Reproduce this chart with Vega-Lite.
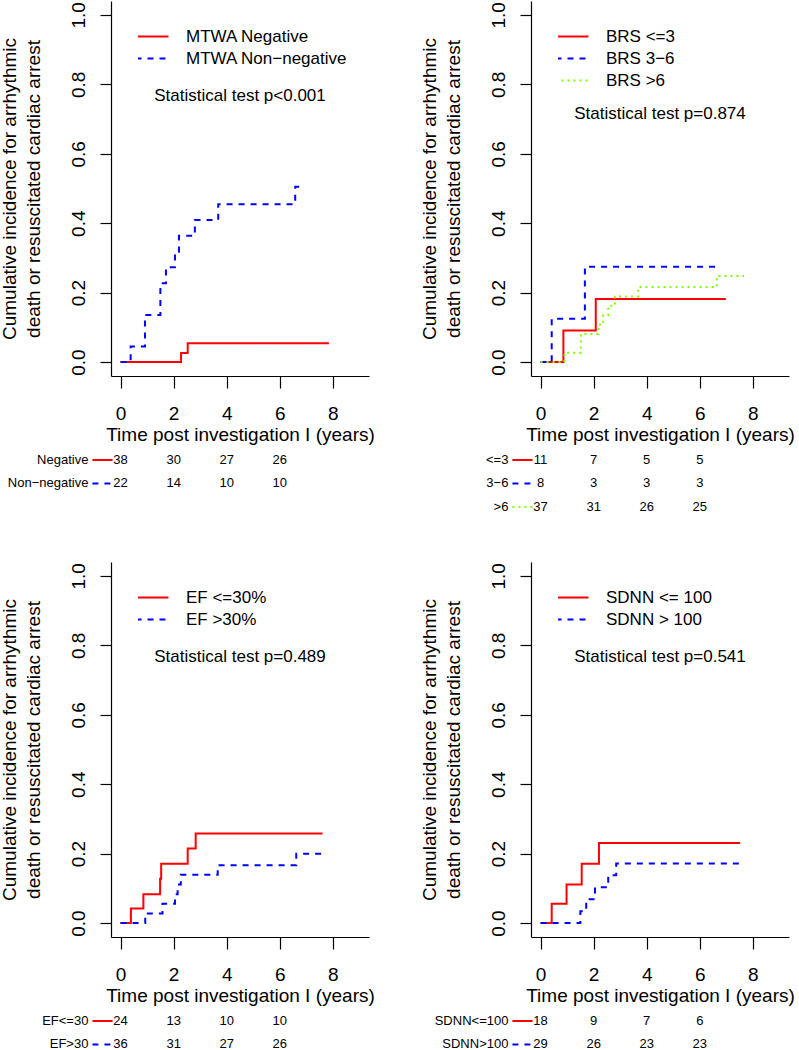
{
  "$schema": "https://vega.github.io/schema/vega-lite/v6.json",
  "padding": {"left": 0, "top": 1, "right": 0, "bottom": 0},
  "columns": 2,
  "spacing": {"row": 46, "column": 162},
  "bounds": "flush",
  "align": "each",
  "resolve": {"scale": {"color": "independent", "strokeDash": "independent"}, "legend": {"color": "independent", "strokeDash": "independent"}},
  "config": {
    "font": "Liberation Sans",
    "view": {"stroke": null},
    "axis": {"grid": false, "domainColor": "#000000", "tickColor": "#000000", "labelColor": "#000000", "titleColor": "#000000", "labelFontSize": 19, "titleFontSize": 19, "titleFontWeight": "normal", "labelFlush": false, "labelOverlap": false, "domainWidth": 1.2, "tickWidth": 1.2},
    "legend": {"padding": 0, "offset": 26.5, "symbolType": "stroke", "symbolSize": 1089, "symbolStrokeWidth": 2, "clipHeight": 17, "rowPadding": 4, "labelFontSize": 17, "labelOffset": 16.5, "symbolOffset": -3.5, "labelColor": "#000000", "labelLimit": 400},
    "text": {"color": "#000000"}
  },
  "datasets": {
    "mtwa": [
      {"series": "MTWA Negative", "time": 0, "ci": 0},
      {"series": "MTWA Negative", "time": 2.28, "ci": 0.026},
      {"series": "MTWA Negative", "time": 2.53, "ci": 0.054},
      {"series": "MTWA Negative", "time": 7.85, "ci": 0.054},
      {"series": "MTWA Non−negative", "time": 0, "ci": 0},
      {"series": "MTWA Non−negative", "time": 0.38, "ci": 0.045},
      {"series": "MTWA Non−negative", "time": 0.92, "ci": 0.136},
      {"series": "MTWA Non−negative", "time": 1.5, "ci": 0.227},
      {"series": "MTWA Non−negative", "time": 1.71, "ci": 0.273},
      {"series": "MTWA Non−negative", "time": 2.05, "ci": 0.318},
      {"series": "MTWA Non−negative", "time": 2.2, "ci": 0.364},
      {"series": "MTWA Non−negative", "time": 2.8, "ci": 0.409},
      {"series": "MTWA Non−negative", "time": 3.68, "ci": 0.455},
      {"series": "MTWA Non−negative", "time": 6.58, "ci": 0.505},
      {"series": "MTWA Non−negative", "time": 6.77, "ci": 0.505}
    ],
    "brs": [
      {"series": "BRS <=3", "time": 0, "ci": 0},
      {"series": "BRS <=3", "time": 0.86, "ci": 0.091},
      {"series": "BRS <=3", "time": 2.08, "ci": 0.182},
      {"series": "BRS <=3", "time": 6.98, "ci": 0.182},
      {"series": "BRS 3−6", "time": 0, "ci": 0},
      {"series": "BRS 3−6", "time": 0.42, "ci": 0.125},
      {"series": "BRS 3−6", "time": 1.67, "ci": 0.275},
      {"series": "BRS 3−6", "time": 6.7, "ci": 0.275},
      {"series": "BRS >6", "time": 0, "ci": 0},
      {"series": "BRS >6", "time": 0.9, "ci": 0.027},
      {"series": "BRS >6", "time": 1.52, "ci": 0.081},
      {"series": "BRS >6", "time": 2.18, "ci": 0.108},
      {"series": "BRS >6", "time": 2.36, "ci": 0.135},
      {"series": "BRS >6", "time": 2.55, "ci": 0.162},
      {"series": "BRS >6", "time": 2.8, "ci": 0.189},
      {"series": "BRS >6", "time": 3.68, "ci": 0.216},
      {"series": "BRS >6", "time": 6.64, "ci": 0.248},
      {"series": "BRS >6", "time": 7.67, "ci": 0.248}
    ],
    "ef": [
      {"series": "EF <=30%", "time": 0, "ci": 0},
      {"series": "EF <=30%", "time": 0.39, "ci": 0.042},
      {"series": "EF <=30%", "time": 0.86, "ci": 0.083},
      {"series": "EF <=30%", "time": 1.49, "ci": 0.128},
      {"series": "EF <=30%", "time": 1.53, "ci": 0.171},
      {"series": "EF <=30%", "time": 2.53, "ci": 0.215},
      {"series": "EF <=30%", "time": 2.83, "ci": 0.258},
      {"series": "EF <=30%", "time": 7.61, "ci": 0.258},
      {"series": "EF >30%", "time": 0, "ci": 0},
      {"series": "EF >30%", "time": 0.93, "ci": 0.028},
      {"series": "EF >30%", "time": 1.58, "ci": 0.056},
      {"series": "EF >30%", "time": 2.05, "ci": 0.083},
      {"series": "EF >30%", "time": 2.15, "ci": 0.111},
      {"series": "EF >30%", "time": 2.27, "ci": 0.139},
      {"series": "EF >30%", "time": 3.66, "ci": 0.167},
      {"series": "EF >30%", "time": 6.62, "ci": 0.2},
      {"series": "EF >30%", "time": 7.72, "ci": 0.2}
    ],
    "sdnn": [
      {"series": "SDNN <= 100", "time": 0, "ci": 0},
      {"series": "SDNN <= 100", "time": 0.42, "ci": 0.056},
      {"series": "SDNN <= 100", "time": 0.98, "ci": 0.111},
      {"series": "SDNN <= 100", "time": 1.55, "ci": 0.171},
      {"series": "SDNN <= 100", "time": 2.2, "ci": 0.231},
      {"series": "SDNN <= 100", "time": 7.52, "ci": 0.231},
      {"series": "SDNN > 100", "time": 0, "ci": 0},
      {"series": "SDNN > 100", "time": 1.5, "ci": 0.034},
      {"series": "SDNN > 100", "time": 1.72, "ci": 0.069},
      {"series": "SDNN > 100", "time": 2.05, "ci": 0.103},
      {"series": "SDNN > 100", "time": 2.55, "ci": 0.138},
      {"series": "SDNN > 100", "time": 2.85, "ci": 0.172},
      {"series": "SDNN > 100", "time": 7.69, "ci": 0.172}
    ],
    "risk_mtwa": [
      {"label": "Negative", "series": "MTWA Negative", "time": 0, "n": 38},
      {"label": "Negative", "series": "MTWA Negative", "time": 2, "n": 30},
      {"label": "Negative", "series": "MTWA Negative", "time": 4, "n": 27},
      {"label": "Negative", "series": "MTWA Negative", "time": 6, "n": 26},
      {"label": "Non−negative", "series": "MTWA Non−negative", "time": 0, "n": 22},
      {"label": "Non−negative", "series": "MTWA Non−negative", "time": 2, "n": 14},
      {"label": "Non−negative", "series": "MTWA Non−negative", "time": 4, "n": 10},
      {"label": "Non−negative", "series": "MTWA Non−negative", "time": 6, "n": 10}
    ],
    "risk_brs": [
      {"label": "<=3", "series": "BRS <=3", "time": 0, "n": 11},
      {"label": "<=3", "series": "BRS <=3", "time": 2, "n": 7},
      {"label": "<=3", "series": "BRS <=3", "time": 4, "n": 5},
      {"label": "<=3", "series": "BRS <=3", "time": 6, "n": 5},
      {"label": "3−6", "series": "BRS 3−6", "time": 0, "n": 8},
      {"label": "3−6", "series": "BRS 3−6", "time": 2, "n": 3},
      {"label": "3−6", "series": "BRS 3−6", "time": 4, "n": 3},
      {"label": "3−6", "series": "BRS 3−6", "time": 6, "n": 3},
      {"label": ">6", "series": "BRS >6", "time": 0, "n": 37},
      {"label": ">6", "series": "BRS >6", "time": 2, "n": 31},
      {"label": ">6", "series": "BRS >6", "time": 4, "n": 26},
      {"label": ">6", "series": "BRS >6", "time": 6, "n": 25}
    ],
    "risk_ef": [
      {"label": "EF<=30", "series": "EF <=30%", "time": 0, "n": 24},
      {"label": "EF<=30", "series": "EF <=30%", "time": 2, "n": 13},
      {"label": "EF<=30", "series": "EF <=30%", "time": 4, "n": 10},
      {"label": "EF<=30", "series": "EF <=30%", "time": 6, "n": 10},
      {"label": "EF>30", "series": "EF >30%", "time": 0, "n": 36},
      {"label": "EF>30", "series": "EF >30%", "time": 2, "n": 31},
      {"label": "EF>30", "series": "EF >30%", "time": 4, "n": 27},
      {"label": "EF>30", "series": "EF >30%", "time": 6, "n": 26}
    ],
    "risk_sdnn": [
      {"label": "SDNN<=100", "series": "SDNN <= 100", "time": 0, "n": 18},
      {"label": "SDNN<=100", "series": "SDNN <= 100", "time": 2, "n": 9},
      {"label": "SDNN<=100", "series": "SDNN <= 100", "time": 4, "n": 7},
      {"label": "SDNN<=100", "series": "SDNN <= 100", "time": 6, "n": 6},
      {"label": "SDNN>100", "series": "SDNN > 100", "time": 0, "n": 29},
      {"label": "SDNN>100", "series": "SDNN > 100", "time": 2, "n": 26},
      {"label": "SDNN>100", "series": "SDNN > 100", "time": 4, "n": 23},
      {"label": "SDNN>100", "series": "SDNN > 100", "time": 6, "n": 23}
    ]
  },
  "concat": [
    {
      "width": 258, "height": 375,
      "layer": [
        {
          "data": {"name": "mtwa"},
          "mark": {"type": "line", "interpolate": "step-after", "strokeWidth": 2},
          "encoding": {
            "x": {"field": "time", "type": "quantitative", "scale": {"domain": [-0.36, 9.36], "nice": false, "zero": false},
                  "axis": {"values": [0, 2, 4, 6, 8], "tickSize": 12, "labelPadding": 16, "title": "Time post investigation I (years)", "titlePadding": 2}},
            "y": {"field": "ci", "type": "quantitative", "scale": {"domain": [-0.04, 1.04], "nice": false, "zero": false},
                  "axis": {"values": [0, 0.2, 0.4, 0.6, 0.8, 1], "format": ".1f", "labelAngle": -90, "labelAlign": "center", "labelBaseline": "bottom", "tickSize": 11, "labelPadding": 12, "title": ["Cumulative incidence for arrhythmic", "death or resuscitated cardiac arrest"], "titlePadding": 26, "titleLineHeight": 24}},
            "color": {"field": "series", "type": "nominal", "scale": {"domain": ["MTWA Negative", "MTWA Non−negative"], "range": ["#FF0000", "#0000FF"]}, "legend": {"orient": "top-left", "title": null}},
            "strokeDash": {"field": "series", "type": "nominal", "scale": {"domain": ["MTWA Negative", "MTWA Non−negative"], "range": [[1, 0], [6, 6]]}, "legend": {"orient": "top-left", "title": null}}
          }
        },
        {
          "data": {"values": [{"note": "Statistical test p<0.001"}]},
          "mark": {"type": "text", "fontSize": 17, "align": "center", "baseline": "middle"},
          "encoding": {"x": {"datum": 4.5, "type": "quantitative"}, "y": {"datum": 0.767, "type": "quantitative"}, "text": {"field": "note"}}
        }
      ]
    },
    {
      "width": 258, "height": 375,
      "layer": [
        {
          "data": {"name": "brs"},
          "mark": {"type": "line", "interpolate": "step-after", "strokeWidth": 2},
          "encoding": {
            "x": {"field": "time", "type": "quantitative", "scale": {"domain": [-0.36, 9.36], "nice": false, "zero": false},
                  "axis": {"values": [0, 2, 4, 6, 8], "tickSize": 12, "labelPadding": 16, "title": "Time post investigation I (years)", "titlePadding": 2}},
            "y": {"field": "ci", "type": "quantitative", "scale": {"domain": [-0.04, 1.04], "nice": false, "zero": false},
                  "axis": {"values": [0, 0.2, 0.4, 0.6, 0.8, 1], "format": ".1f", "labelAngle": -90, "labelAlign": "center", "labelBaseline": "bottom", "tickSize": 11, "labelPadding": 12, "title": ["Cumulative incidence for arrhythmic", "death or resuscitated cardiac arrest"], "titlePadding": 26, "titleLineHeight": 24}},
            "color": {"field": "series", "type": "nominal", "scale": {"domain": ["BRS <=3", "BRS 3−6", "BRS >6"], "range": ["#FF0000", "#0000FF", "#7FFF00"]}, "legend": {"orient": "top-left", "title": null}},
            "strokeDash": {"field": "series", "type": "nominal", "scale": {"domain": ["BRS <=3", "BRS 3−6", "BRS >6"], "range": [[1, 0], [6, 6], [2, 4]]}, "legend": {"orient": "top-left", "title": null}}
          }
        },
        {
          "data": {"values": [{"note": "Statistical test p=0.874"}]},
          "mark": {"type": "text", "fontSize": 17, "align": "center", "baseline": "middle"},
          "encoding": {"x": {"datum": 4.5, "type": "quantitative"}, "y": {"datum": 0.715, "type": "quantitative"}, "text": {"field": "note"}}
        }
      ]
    },
    {
      "width": 258, "height": 70.5,
      "data": {"name": "risk_mtwa"},
      "encoding": {"y": {"field": "label", "type": "nominal", "scale": {"type": "point", "domain": ["Negative", "Non−negative"], "padding": 1, "align": 0.8085}, "axis": null}},
      "layer": [
        {"mark": {"type": "text", "fontSize": 13, "align": "center", "baseline": "middle"},
         "encoding": {"x": {"field": "time", "type": "quantitative", "scale": {"domain": [-0.36, 9.36], "nice": false, "zero": false}, "axis": null}, "text": {"field": "n", "type": "quantitative"}}},
        {"transform": [{"filter": "datum.time == 0"}],
         "mark": {"type": "text", "fontSize": 13, "align": "right", "baseline": "middle", "dx": -4},
         "encoding": {"x": {"datum": -1.06, "type": "quantitative"}, "text": {"field": "label"}}},
        {"transform": [{"filter": "datum.time == 0"}],
         "mark": {"type": "rule", "strokeWidth": 2},
         "encoding": {"x": {"datum": -1.06, "type": "quantitative"}, "x2": {"datum": -0.3},
           "color": {"field": "series", "type": "nominal", "scale": {"domain": ["MTWA Negative", "MTWA Non−negative"], "range": ["#FF0000", "#0000FF"]}, "legend": null},
           "strokeDash": {"field": "series", "type": "nominal", "scale": {"domain": ["MTWA Negative", "MTWA Non−negative"], "range": [[1, 0], [6, 6]]}, "legend": null}}}
      ]
    },
    {
      "width": 258, "height": 94,
      "data": {"name": "risk_brs"},
      "encoding": {"y": {"field": "label", "type": "nominal", "scale": {"type": "point", "domain": ["<=3", "3−6", ">6"], "padding": 1, "align": 0.8085}, "axis": null}},
      "layer": [
        {"mark": {"type": "text", "fontSize": 13, "align": "center", "baseline": "middle"},
         "encoding": {"x": {"field": "time", "type": "quantitative", "scale": {"domain": [-0.36, 9.36], "nice": false, "zero": false}, "axis": null}, "text": {"field": "n", "type": "quantitative"}}},
        {"transform": [{"filter": "datum.time == 0"}],
         "mark": {"type": "text", "fontSize": 13, "align": "right", "baseline": "middle", "dx": -4},
         "encoding": {"x": {"datum": -1.06, "type": "quantitative"}, "text": {"field": "label"}}},
        {"transform": [{"filter": "datum.time == 0"}],
         "mark": {"type": "rule", "strokeWidth": 2},
         "encoding": {"x": {"datum": -1.06, "type": "quantitative"}, "x2": {"datum": -0.3},
           "color": {"field": "series", "type": "nominal", "scale": {"domain": ["BRS <=3", "BRS 3−6", "BRS >6"], "range": ["#FF0000", "#0000FF", "#7FFF00"]}, "legend": null},
           "strokeDash": {"field": "series", "type": "nominal", "scale": {"domain": ["BRS <=3", "BRS 3−6", "BRS >6"], "range": [[1, 0], [6, 6], [2, 4]]}, "legend": null}}}
      ]
    },
    {
      "width": 258, "height": 375,
      "layer": [
        {
          "data": {"name": "ef"},
          "mark": {"type": "line", "interpolate": "step-after", "strokeWidth": 2},
          "encoding": {
            "x": {"field": "time", "type": "quantitative", "scale": {"domain": [-0.36, 9.36], "nice": false, "zero": false},
                  "axis": {"values": [0, 2, 4, 6, 8], "tickSize": 12, "labelPadding": 16, "title": "Time post investigation I (years)", "titlePadding": 2}},
            "y": {"field": "ci", "type": "quantitative", "scale": {"domain": [-0.04, 1.04], "nice": false, "zero": false},
                  "axis": {"values": [0, 0.2, 0.4, 0.6, 0.8, 1], "format": ".1f", "labelAngle": -90, "labelAlign": "center", "labelBaseline": "bottom", "tickSize": 11, "labelPadding": 12, "title": ["Cumulative incidence for arrhythmic", "death or resuscitated cardiac arrest"], "titlePadding": 26, "titleLineHeight": 24}},
            "color": {"field": "series", "type": "nominal", "scale": {"domain": ["EF <=30%", "EF >30%"], "range": ["#FF0000", "#0000FF"]}, "legend": {"orient": "top-left", "title": null}},
            "strokeDash": {"field": "series", "type": "nominal", "scale": {"domain": ["EF <=30%", "EF >30%"], "range": [[1, 0], [6, 6]]}, "legend": {"orient": "top-left", "title": null}}
          }
        },
        {
          "data": {"values": [{"note": "Statistical test p=0.489"}]},
          "mark": {"type": "text", "fontSize": 17, "align": "center", "baseline": "middle"},
          "encoding": {"x": {"datum": 4.5, "type": "quantitative"}, "y": {"datum": 0.767, "type": "quantitative"}, "text": {"field": "note"}}
        }
      ]
    },
    {
      "width": 258, "height": 375,
      "layer": [
        {
          "data": {"name": "sdnn"},
          "mark": {"type": "line", "interpolate": "step-after", "strokeWidth": 2},
          "encoding": {
            "x": {"field": "time", "type": "quantitative", "scale": {"domain": [-0.36, 9.36], "nice": false, "zero": false},
                  "axis": {"values": [0, 2, 4, 6, 8], "tickSize": 12, "labelPadding": 16, "title": "Time post investigation I (years)", "titlePadding": 2}},
            "y": {"field": "ci", "type": "quantitative", "scale": {"domain": [-0.04, 1.04], "nice": false, "zero": false},
                  "axis": {"values": [0, 0.2, 0.4, 0.6, 0.8, 1], "format": ".1f", "labelAngle": -90, "labelAlign": "center", "labelBaseline": "bottom", "tickSize": 11, "labelPadding": 12, "title": ["Cumulative incidence for arrhythmic", "death or resuscitated cardiac arrest"], "titlePadding": 26, "titleLineHeight": 24}},
            "color": {"field": "series", "type": "nominal", "scale": {"domain": ["SDNN <= 100", "SDNN > 100"], "range": ["#FF0000", "#0000FF"]}, "legend": {"orient": "top-left", "title": null}},
            "strokeDash": {"field": "series", "type": "nominal", "scale": {"domain": ["SDNN <= 100", "SDNN > 100"], "range": [[1, 0], [6, 6]]}, "legend": {"orient": "top-left", "title": null}}
          }
        },
        {
          "data": {"values": [{"note": "Statistical test p=0.541"}]},
          "mark": {"type": "text", "fontSize": 17, "align": "center", "baseline": "middle"},
          "encoding": {"x": {"datum": 4.5, "type": "quantitative"}, "y": {"datum": 0.767, "type": "quantitative"}, "text": {"field": "note"}}
        }
      ]
    },
    {
      "width": 258, "height": 70.5,
      "data": {"name": "risk_ef"},
      "encoding": {"y": {"field": "label", "type": "nominal", "scale": {"type": "point", "domain": ["EF<=30", "EF>30"], "padding": 1, "align": 0.8085}, "axis": null}},
      "layer": [
        {"mark": {"type": "text", "fontSize": 13, "align": "center", "baseline": "middle"},
         "encoding": {"x": {"field": "time", "type": "quantitative", "scale": {"domain": [-0.36, 9.36], "nice": false, "zero": false}, "axis": null}, "text": {"field": "n", "type": "quantitative"}}},
        {"transform": [{"filter": "datum.time == 0"}],
         "mark": {"type": "text", "fontSize": 13, "align": "right", "baseline": "middle", "dx": -4},
         "encoding": {"x": {"datum": -1.06, "type": "quantitative"}, "text": {"field": "label"}}},
        {"transform": [{"filter": "datum.time == 0"}],
         "mark": {"type": "rule", "strokeWidth": 2},
         "encoding": {"x": {"datum": -1.06, "type": "quantitative"}, "x2": {"datum": -0.3},
           "color": {"field": "series", "type": "nominal", "scale": {"domain": ["EF <=30%", "EF >30%"], "range": ["#FF0000", "#0000FF"]}, "legend": null},
           "strokeDash": {"field": "series", "type": "nominal", "scale": {"domain": ["EF <=30%", "EF >30%"], "range": [[1, 0], [6, 6]]}, "legend": null}}}
      ]
    },
    {
      "width": 258, "height": 70.5,
      "data": {"name": "risk_sdnn"},
      "encoding": {"y": {"field": "label", "type": "nominal", "scale": {"type": "point", "domain": ["SDNN<=100", "SDNN>100"], "padding": 1, "align": 0.8085}, "axis": null}},
      "layer": [
        {"mark": {"type": "text", "fontSize": 13, "align": "center", "baseline": "middle"},
         "encoding": {"x": {"field": "time", "type": "quantitative", "scale": {"domain": [-0.36, 9.36], "nice": false, "zero": false}, "axis": null}, "text": {"field": "n", "type": "quantitative"}}},
        {"transform": [{"filter": "datum.time == 0"}],
         "mark": {"type": "text", "fontSize": 13, "align": "right", "baseline": "middle", "dx": -4},
         "encoding": {"x": {"datum": -1.06, "type": "quantitative"}, "text": {"field": "label"}}},
        {"transform": [{"filter": "datum.time == 0"}],
         "mark": {"type": "rule", "strokeWidth": 2},
         "encoding": {"x": {"datum": -1.06, "type": "quantitative"}, "x2": {"datum": -0.3},
           "color": {"field": "series", "type": "nominal", "scale": {"domain": ["SDNN <= 100", "SDNN > 100"], "range": ["#FF0000", "#0000FF"]}, "legend": null},
           "strokeDash": {"field": "series", "type": "nominal", "scale": {"domain": ["SDNN <= 100", "SDNN > 100"], "range": [[1, 0], [6, 6]]}, "legend": null}}}
      ]
    }
  ]
}
